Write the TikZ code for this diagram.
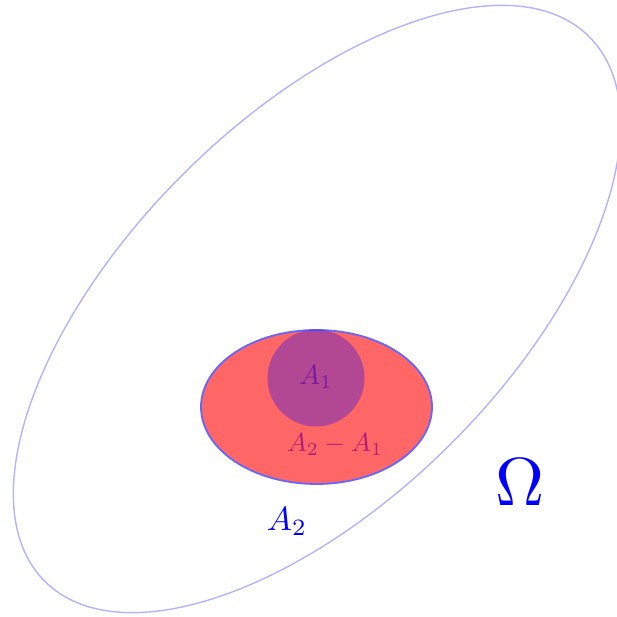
\documentclass[tikz,border=0pt]{standalone}
\usepackage{tikz}
\definecolor{aonecol}{RGB}{122,26,160}
\definecolor{difcol}{RGB}{176,32,122}
\tikzset{
  outerell/.style={draw=blue!30, line width=1.4pt},
  subcirc/.style={fill=blue, fill opacity=0.3, draw=none},
  lbl/.style={inner sep=0pt}
}
\begin{document}
\begin{tikzpicture}[x=1pt,y=1pt]
\useasboundingbox (0,0) rectangle (616,617);
\coordinate (oc) at (317,308);
\draw[outerell, rotate around={45:(oc)}] (oc) ellipse [x radius=385, y radius=190];
\fill[red, fill opacity=0.6] (316.5,210) ellipse [x radius=115.5, y radius=77];
\draw[blue!60, line width=1.8pt] (316.5,210) ellipse [x radius=115.5, y radius=77];
\fill[subcirc] (316,239) circle [radius=48.5];
\node[lbl, text=aonecol, scale=2.8] (a1) at (316,240) {$A_1$};
\node[lbl, text=difcol, scale=2.65] (d) at (335,173) {$A_2-A_1$};
\node[lbl, text=blue, scale=3.35] (a2) at (287,95) {$A_2$};
\node[lbl, text=blue, scale=6.8] (om) at (520,135) {$\Omega$};
\end{tikzpicture}
\end{document}
